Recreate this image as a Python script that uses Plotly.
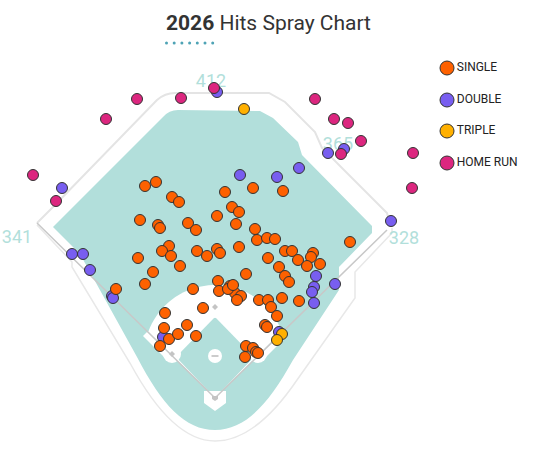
"""2026 hits spray chart drawn over a ballpark outline."""

import numpy as np
import plotly.graph_objects as go

W, H = 536, 458

# hit locations in chart coordinates (x right, y down)
single_x = [145, 156, 172, 179, 225, 253, 232, 239, 217, 236, 140, 158, 160, 188, 196, 255,
            257, 267, 275, 169, 162, 171, 197, 207, 217, 220, 239, 138, 283, 350, 268, 285,
            292, 313, 311, 298, 307, 320, 279, 285, 289, 246, 218, 230, 219, 235, 241, 237,
            228, 259, 268, 282, 299, 271, 277, 265, 267, 246, 253, 256, 245, 203, 116, 180,
            153, 145, 193, 165, 164, 169, 178, 187, 196, 160, 233, 258]
single_y = [186, 182, 197, 202, 192, 188, 207, 212, 216, 224, 220, 225, 228, 223, 230, 229,
            240, 238, 239, 246, 251, 256, 251, 256, 249, 253, 247, 258, 191, 242, 258, 251,
            251, 253, 257, 260, 266, 264, 267, 276, 282, 274, 281, 286, 291, 293, 296, 300,
            289, 300, 300, 298, 301, 307, 316, 325, 327, 346, 348, 352, 357, 308, 289, 266,
            272, 284, 289, 313, 328, 339, 334, 325, 336, 346, 285, 353]

double_x = [217, 62, 240, 277, 299, 328, 344, 391, 72, 83, 90, 112, 113, 163, 316, 335,
            314, 312, 314, 279]
double_y = [92, 188, 175, 177, 168, 153, 149, 221, 254, 254, 270, 296, 298, 337, 276, 284,
            287, 292, 303, 332]

triple_x = [244, 282, 277]
triple_y = [109, 334, 340]

homer_x = [33, 106, 137, 181, 214, 315, 334, 348, 361, 341, 413, 412, 56]
homer_y = [175, 119, 99, 98, 88, 99, 119, 123, 141, 154, 153, 188, 201]

hit_types = ["SINGLE", "DOUBLE", "TRIPLE", "HOME RUN"]
hit_colors = ["#fe6100", "#785ef0", "#ffb000", "#dc267f"]

fence_labels = ["341", "412", "365", "328"]
fence_label_x = [17, 211, 338, 404]
fence_label_y = [238, 82, 145, 239]

GRASS = "#b2dfdb"
OUTLINE = "#333333"


def path(points, close=True):
    s = "M " + " L ".join(f"{x:.1f},{y:.1f}" for x, y in points)
    return s + (" Z" if close else "")


def circle(cx, cy, r, color):
    return dict(type="circle", x0=cx - r, x1=cx + r, y0=cy - r, y1=cy + r,
                fillcolor=color, line=dict(width=0), layer="below")


shapes = []

# outfield + foul territory grass
shapes.append(dict(
    type="path",
    path=("M 53,227 L 163,117 Q 169,110 178,110 L 260,111 L 273,118 L 298,142 L 302,155 "
          "L 372,226 L 372,233 L 339,267 L 339,290 L 293,360 "
          "C 268,405 245,430 215,430 C 185,430 162,405 137,357 L 80,254 Z"),
    fillcolor=GRASS, line=dict(width=0), layer="below"))

# stands outline
shapes.append(dict(
    type="path",
    path=("M 37,225 L 72,262 L 72,267 L 130,363 C 150,400 180,441 215,441 "
          "C 250,441 280,405 297,380 L 355,298 L 355,272 L 392,233 L 392,228"),
    line=dict(color="#e8e8e8", width=1.5), layer="below"))

# outfield fence
shapes.append(dict(
    type="path",
    path=("M 37,223 L 53,207 L 157,100 Q 165,93 175,93 L 269,93 L 285,102 L 315,132 "
          "L 322,148 L 387,213 L 390,226"),
    line=dict(color="#e4e4e4", width=2), layer="below"))

# infield dirt: circle round the mound cut by the foul lines
cx, cy, r = 215, 356, 71
ang = np.linspace(np.radians(-159.7), np.radians(-20.3), 40)
arc = list(zip(cx + r * np.cos(ang), cy + r * np.sin(ang)))
shapes.append(dict(type="path", path=path([(215, 398)] + arc), fillcolor="white",
                   line=dict(width=0), layer="below"))
shapes.append(dict(type="path", path=path([(148, 331), (173, 356), (168, 361), (143, 336)]),
                   fillcolor="white", line=dict(width=0), layer="below"))
shapes.append(dict(type="path", path=path([(282, 331), (257, 356), (262, 361), (287, 336)]),
                   fillcolor="white", line=dict(width=0), layer="below"))

# infield grass and base cut-outs
shapes.append(dict(type="path", path=path([(215, 398), (176, 357), (215, 317), (254, 357)]),
                   fillcolor=GRASS, line=dict(width=0), layer="below"))
shapes.append(circle(215, 308, 10, "white"))
shapes.append(circle(172, 354, 9, "white"))
shapes.append(circle(258, 354, 9, "white"))
shapes.append(dict(type="path", path=path([(204, 391), (226, 391), (226, 403), (215, 411), (204, 403)]),
                   fillcolor="white", line=dict(width=0), layer="below"))

# foul lines
shapes.append(dict(type="path", path="M 37,223 L 215,398 L 387,230",
                   line=dict(color="#c8c8c8", width=1.5), layer="below"))

# bases, plate and mound
for bx, by in [(215, 307), (172, 354), (258, 354)]:
    shapes.append(dict(type="path", path=path([(bx, by - 3), (bx + 3, by), (bx, by + 3), (bx - 3, by)]),
                       fillcolor="#c4c4c4", line=dict(width=0), layer="below"))
shapes.append(dict(type="path", path=path([(212, 396), (218, 396), (218, 399), (215, 401), (212, 399)]),
                   fillcolor="#c4c4c4", line=dict(width=0), layer="below"))
shapes.append(circle(215, 356, 7, "white"))
shapes.append(dict(type="line", x0=211.5, x1=218.5, y0=356, y1=356,
                   line=dict(color="#cccccc", width=2), layer="below"))

# dotted rule under the title
for i in range(7):
    shapes.append(dict(type="circle", x0=165 + i * 7.7, x1=168 + i * 7.7, y0=41.5, y1=44.5,
                       fillcolor="#4ea3b5", line=dict(width=0), layer="above"))

fig = go.Figure()

fig.add_trace(go.Scatter(
    x=fence_label_x, y=fence_label_y, mode="text", text=fence_labels, cliponaxis=False,
    textfont=dict(family="Roboto", size=18, color=GRASS), hoverinfo="skip"))

series = [
    (double_x, double_y, hit_colors[1]),
    (single_x, single_y, hit_colors[0]),
    (triple_x, triple_y, hit_colors[2]),
    (homer_x, homer_y, hit_colors[3]),
]
for xs, ys, color in series:
    fig.add_trace(go.Scatter(
        x=xs, y=ys, mode="markers",
        marker=dict(size=11, color=color, line=dict(color=OUTLINE, width=1)),
        hoverinfo="skip"))

# legend
legend_y = [68, 100, 131, 163]
fig.add_trace(go.Scatter(
    x=[447] * len(hit_types), y=legend_y, mode="markers+text", text=hit_types,
    textposition="middle right", cliponaxis=False,
    marker=dict(size=14, color=hit_colors, line=dict(color=OUTLINE, width=1)),
    textfont=dict(family="Roboto", size=12, color="#222222"), hoverinfo="skip"))

fig.update_layout(
    width=W, height=H,
    margin=dict(l=0, r=0, t=0, b=0),
    paper_bgcolor="white", plot_bgcolor="white",
    showlegend=False,
    shapes=shapes,
    xaxis=dict(range=[0, W], visible=False, fixedrange=True),
    yaxis=dict(range=[H, 0], visible=False, fixedrange=True),
    annotations=[dict(
        text="<b>2026</b> Hits Spray Chart", x=W / 2, y=23, xref="x", yref="y",
        showarrow=False, xanchor="center", yanchor="middle",
        font=dict(family="Roboto", size=21, color="#333333"))],
)

# drop the page's default body margin so the figure sits at the window corner
fig.write_html("out.html", config={"displayModeBar": False},
               post_script="document.body.style.margin = '0px';")
